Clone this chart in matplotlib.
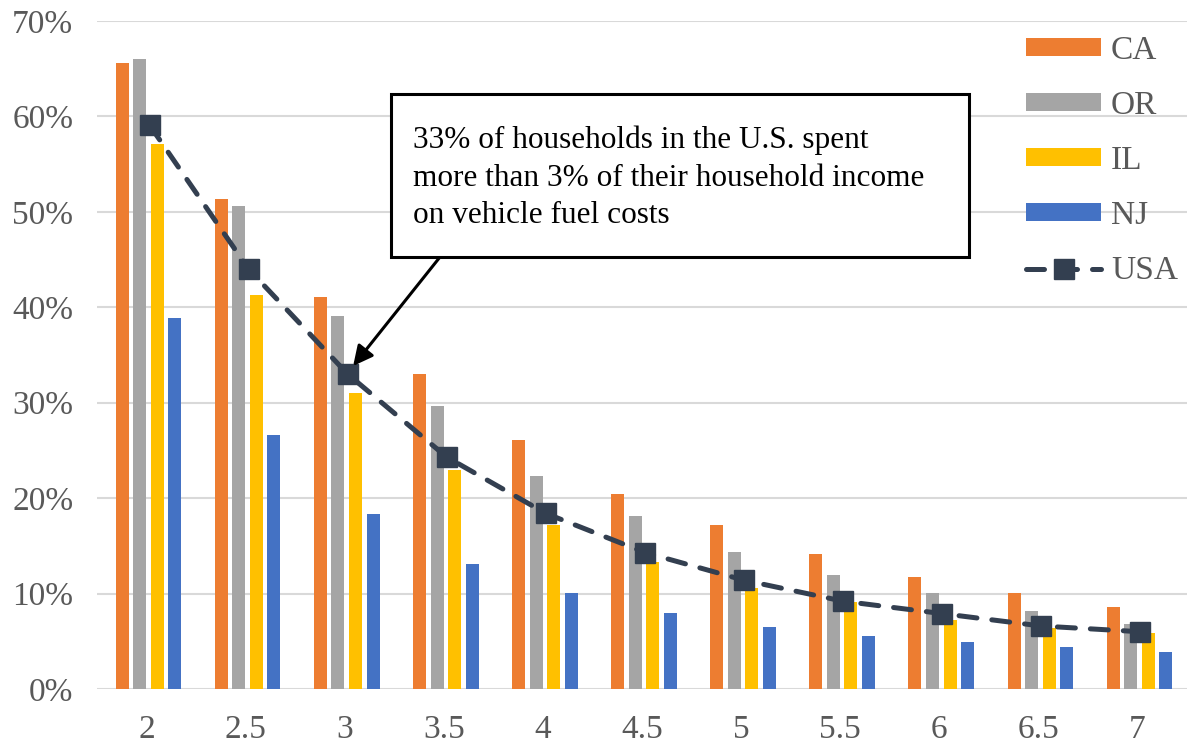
import numpy as np
import matplotlib.pyplot as plt
from matplotlib.ticker import FuncFormatter
from matplotlib.patches import Rectangle

plt.rcParams['font.family'] = ['Liberation Serif', 'DejaVu Serif']

# share of households spending more than x% of income on vehicle fuel
thresholds = ['2', '2.5', '3', '3.5', '4', '4.5', '5', '5.5', '6', '6.5', '7']
ca = [65.6, 51.4, 41.1, 33.0, 26.1, 20.4, 17.2, 14.2, 11.7, 10.1, 8.6]
orr = [66.0, 50.6, 39.1, 29.7, 22.3, 18.1, 14.4, 11.9, 10.1, 8.2, 6.8]
il = [57.1, 41.3, 31.0, 22.9, 17.2, 13.3, 10.6, 9.1, 7.2, 6.4, 5.9]
nj = [38.9, 26.6, 18.3, 13.1, 10.1, 8.0, 6.5, 5.6, 4.9, 4.4, 3.9]
usa = [59.1, 44.0, 33.0, 24.3, 18.4, 14.3, 11.4, 9.2, 7.9, 6.6, 6.0]

series = [('CA', ca, '#ED7D31'), ('OR', orr, '#A5A5A5'),
          ('IL', il, '#FFC000'), ('NJ', nj, '#4472C4')]

W, H = 1190, 746
fig = plt.figure(figsize=(W / 100, H / 100), dpi=100)
ax = fig.add_axes([0.0815, 0.0764, 0.916, 0.8954])

x = np.arange(len(thresholds))
step = 0.177
bw = 0.131
handles = []
for i, (name, vals, col) in enumerate(series):
    b = ax.bar(x + (i - 1.5) * step + 0.02, vals, width=bw, color=col, label=name, zorder=2)
    handles.append(b)

ln, = ax.plot(x + 0.03, usa, color='#333F50', lw=3.6, linestyle=(0, (3.6, 3.0)),
              dash_capstyle='round', marker='s', markersize=14.5, label='USA', zorder=3)
handles.append(ln)

ax.set_xlim(-0.5, len(thresholds) - 0.5)
ax.set_ylim(0, 70)
ax.set_yticks(range(0, 71, 10))
ax.yaxis.set_major_formatter(FuncFormatter(lambda v, p: '%d%%' % v))
ax.set_xticks(x)
ax.set_xticklabels(thresholds)
ax.grid(axis='y', color='#D9D9D9', lw=1.5, zorder=0)
ax.set_axisbelow(True)
for s in ax.spines.values():
    s.set_visible(False)
ax.tick_params(length=0, labelsize=24, labelcolor='#595959')
ax.tick_params(axis='y', pad=17)
ax.tick_params(axis='x', pad=18)

leg = fig.legend(handles=handles, labels=[h.get_label() for h in handles],
                 loc='upper left', bbox_to_anchor=(1013 / W, 1 - 22 / H),
                 frameon=False, fontsize=24, handlelength=2.24, handleheight=0.45,
                 labelspacing=0.74, handletextpad=0.3, borderaxespad=0)
for t in leg.get_texts():
    t.set_color('#595959')

# callout box
fig.patches.append(Rectangle((391 / W, 1 - 257 / H), (969 - 391) / W, (257 - 94) / H,
                             transform=fig.transFigure, fc='white', ec='black', lw=2.2,
                             zorder=5))
fig.text(413 / W, 1 - 223 / H,
         '33% of households in the U.S. spent\nmore than 3% of their household income\non vehicle fuel costs',
         fontsize=22.5, color='black', linespacing=1.38, va='baseline', ha='left', zorder=6)
ax.annotate('', xy=(2.05, 33.4), xycoords='data',
            xytext=(440 / W, 1 - 257 / H), textcoords='figure fraction',
            arrowprops=dict(arrowstyle='-|>', color='black', lw=2.2,
                            mutation_scale=30, shrinkA=0, shrinkB=4),
            zorder=4)

fig.savefig('out.png', dpi=100)
